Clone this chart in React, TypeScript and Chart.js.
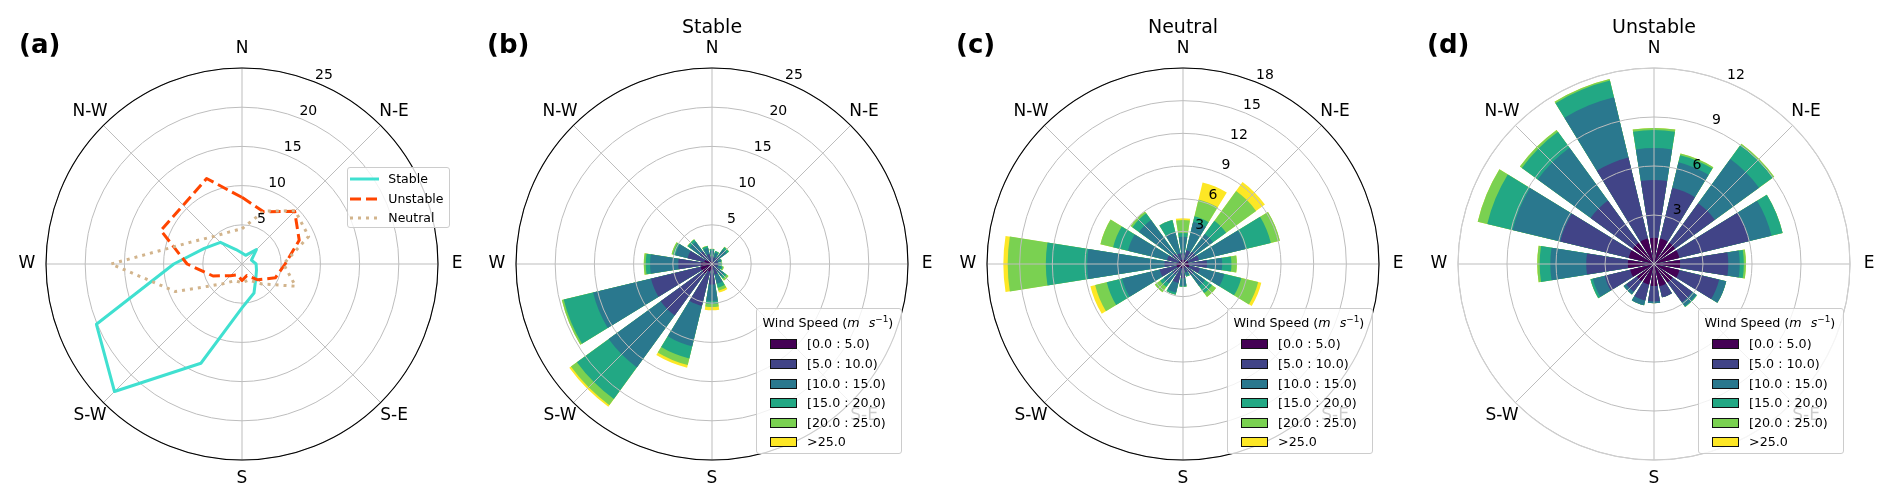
import React, { useEffect, useRef } from 'react';
import { Chart, registerables } from 'chart.js';

Chart.register(...registerables);

// ---------- data ----------
const DIRECTIONS = ['N', 'NNE', 'NE', 'ENE', 'E', 'ESE', 'SE', 'SSE', 'S', 'SSW', 'SW', 'WSW', 'W', 'WNW', 'NW', 'NNW'];
const COMPASS_LABELS = ['N', 'N-E', 'E', 'S-E', 'S', 'S-W', 'W', 'N-W'];
const SPEED_BINS = ['[0.0 : 5.0)', '[5.0 : 10.0)', '[10.0 : 15.0)', '[15.0 : 20.0)', '[20.0 : 25.0)', '>25.0'];
const SPEED_COLORS = ['#440154', '#414487', '#2a788e', '#22a884', '#7ad151', '#fde725'];

const TICKS_A = [5, 10, 15, 20, 25];
const TICKS_B = [5, 10, 15, 20, 25];
const TICKS_C = [3, 6, 9, 12, 15, 18];
const TICKS_D = [3, 6, 9, 12];

// (a) frequency lines per direction
const LINE_STABLE = [1.4, 1.2, 2.6, 1.3, 1.8, 2.0, 2.5, 4.0, 5.6, 13.7, 23.0, 20.1, 8.7, 5.2, 3.9, 2.0];
const LINE_UNSTABLE = [8.5, 7.2, 9.5, 7.9, 5.5, 4.6, 2.85, 1.6, 2.1, 1.5, 2.1, 4.0, 7.0, 11.2, 10.6, 11.8];
const LINE_NEUTRAL = [4.5, 7.3, 9.6, 9.2, 5.3, 7.4, 3.6, 2.2, 2.4, 2.3, 3.6, 9.2, 16.7, 7.2, 5.0, 4.4];

// (b) Stable, per speed bin, per direction
const STABLE_B0 = [0.3, 0.3, 0.3, 0.3, 0.3, 0.3, 0.4, 0.4, 0.7, 1.0, 1.5, 1.5, 1.4, 1.0, 0.6, 0.4];
const STABLE_B1 = [0.7, 0.6, 0.8, 0.5, 0.5, 0.5, 0.8, 1.0, 1.9, 4.5, 6.6, 6.5, 2.9, 2.2, 1.4, 0.9];
const STABLE_B2 = [0.7, 0.6, 1.2, 0.4, 0.3, 0.4, 0.7, 1.2, 2.1, 5.3, 8.2, 7.6, 3.6, 1.6, 1.5, 0.8];
const STABLE_B3 = [0.2, 0.2, 0.35, 0.1, 0.15, 0.2, 0.4, 0.5, 0.4, 1.6, 5.0, 3.85, 0.55, 0.3, 0.35, 0.25];
const STABLE_B4 = [0.05, 0, 0.05, 0, 0.05, 0.15, 0.3, 0.4, 0.4, 0.85, 0.95, 0.25, 0.25, 0.2, 0.05, 0.05];
const STABLE_B5 = [0, 0, 0, 0, 0, 0, 0, 0.25, 0.4, 0.35, 0.25, 0, 0, 0, 0, 0];

// (c) Neutral
const NEUTRAL_B0 = [0.4, 0.4, 0.4, 0.5, 0.5, 0.6, 0.4, 0.3, 0.4, 0.4, 0.4, 0.6, 0.6, 0.4, 0.4, 0.4];
const NEUTRAL_B1 = [0.6, 0.9, 1.0, 1.0, 1.7, 1.0, 0.8, 0.5, 0.9, 1.4, 0.8, 1.6, 1.1, 1.1, 0.8, 0.6];
const NEUTRAL_B2 = [1.5, 2.7, 2.0, 4.4, 1.4, 2.3, 1.3, 0.3, 0.7, 0.9, 1.0, 3.55, 7.1, 3.7, 3.8, 2.0];
const NEUTRAL_B3 = [0.35, 0.5, 1.5, 2.4, 0.85, 1.6, 0.8, 0.1, 0.1, 0.2, 0.4, 1.45, 3.8, 1.4, 0.75, 1.15];
const NEUTRAL_B4 = [1.2, 1.6, 3.4, 0.85, 0.5, 1.6, 0.45, 0, 0, 0, 0.6, 1.1, 3.5, 1.2, 0.2, 0];
const NEUTRAL_B5 = [0.15, 1.6, 1.0, 0, 0, 0.3, 0, 0, 0, 0, 0, 0.45, 0.4, 0, 0, 0];

// (d) Unstable
const UNSTABLE_B0 = [1.6, 1.6, 1.6, 1.6, 1.6, 1.6, 1.4, 1.4, 1.35, 1.3, 1.3, 1.5, 1.6, 1.6, 1.6, 1.6];
const UNSTABLE_B1 = [3.55, 3.2, 3.0, 4.4, 2.95, 2.5, 1.5, 0.7, 0.95, 1.0, 0.8, 1.6, 2.55, 4.3, 3.2, 5.1];
const UNSTABLE_B2 = [1.95, 1.6, 3.35, 1.4, 0.7, 0.45, 0.3, 0, 0.1, 0.3, 0.2, 0.75, 2.2, 3.0, 4.0, 3.8];
const UNSTABLE_B3 = [1.1, 0.45, 1.05, 0.7, 0.25, 0, 0.05, 0, 0, 0, 0, 0.15, 0.65, 1.6, 1.2, 1.05];
const UNSTABLE_B4 = [0.13, 0.1, 0.1, 0, 0.13, 0, 0, 0, 0, 0, 0, 0, 0.15, 0.6, 0.15, 0.1];
const UNSTABLE_B5 = [0, 0, 0, 0, 0, 0, 0, 0, 0, 0, 0, 0, 0, 0, 0, 0];

// ---------- layout / style ----------
const W = 1892;
const H = 504;
const CENTER_Y = 264;
const RADIUS = 196;
const GRID_COLOR = '#bdbdbd';
const FONT = '"DejaVu Sans", "Liberation Sans", sans-serif';
const SECTOR_DEG = 360 / DIRECTIONS.length;
const BAR_DEG = SECTOR_DEG * 0.8;
const GAP_DEG = SECTOR_DEG - BAR_DEG;

function padFor(cx: number) {
  return { left: cx - RADIUS, right: W - cx - RADIUS, top: CENTER_Y - RADIUS, bottom: H - CENTER_Y - RADIUS };
}

type DecorCfg = { letter: string; letterX: number; title?: string; angleLines: boolean; outerColor: string };

function decorPlugin(cfg: DecorCfg) {
  return {
    id: 'decor',
    afterDraw(chart: any) {
      const scale = chart.scales.r;
      const cx = scale.xCenter;
      const cy = scale.yCenter;
      const R = scale.drawingArea;
      const ctx: CanvasRenderingContext2D = chart.ctx;
      ctx.save();
      if (cfg.angleLines) {
        ctx.strokeStyle = GRID_COLOR;
        ctx.lineWidth = 1;
        for (let k = 0; k < 8; k++) {
          const a = (k * 45 - 90) * Math.PI / 180;
          ctx.beginPath();
          ctx.moveTo(cx, cy);
          ctx.lineTo(cx + R * Math.cos(a), cy + R * Math.sin(a));
          ctx.stroke();
        }
      }
      ctx.strokeStyle = cfg.outerColor;
      ctx.lineWidth = 1.1;
      ctx.beginPath();
      ctx.arc(cx, cy, R, 0, Math.PI * 2);
      ctx.stroke();

      ctx.fillStyle = '#000';
      ctx.textAlign = 'center';
      ctx.textBaseline = 'middle';
      ctx.font = `17px ${FONT}`;
      COMPASS_LABELS.forEach((lab, k) => {
        const a = (k * 45 - 90) * Math.PI / 180;
        const d = R * 1.097;
        ctx.fillText(lab, cx + d * Math.cos(a), cy + d * Math.sin(a));
      });

      ctx.font = `14px ${FONT}`;
      const ta = (23.5 - 90) * Math.PI / 180;
      scale.ticks.forEach((t: any) => {
        if (t.value === 0) return;
        const d = scale.getDistanceFromCenterForValue(t.value) + 9.5;
        ctx.fillText(String(t.value), cx + d * Math.cos(ta), cy + d * Math.sin(ta));
      });

      if (cfg.title) {
        ctx.font = `19px ${FONT}`;
        ctx.fillText(cfg.title, cx, 28);
      }
      ctx.font = `bold 26px ${FONT}`;
      ctx.textAlign = 'left';
      ctx.textBaseline = 'alphabetic';
      ctx.fillText(cfg.letter, cfg.letterX, 52.5);
      ctx.restore();
    },
  };
}

// ---------- panel (a): radar lines ----------
const LINE_SERIES = [
  { name: 'Stable', data: LINE_STABLE, color: '#40E0D0', dash: [] as number[], order: 2 },
  { name: 'Unstable', data: LINE_UNSTABLE, color: '#FF4500', dash: [11, 5], order: 1 },
  { name: 'Neutral', data: LINE_NEUTRAL, color: '#D2B48C', dash: [3, 5], order: 0 },
];

function lineConfig() {
  const cx = 242;
  return {
    type: 'radar',
    data: {
      labels: DIRECTIONS,
      datasets: LINE_SERIES.map((s) => ({
        label: s.name,
        data: s.data,
        borderColor: s.color,
        backgroundColor: 'transparent',
        borderWidth: 3,
        borderDash: s.dash,
        borderJoinStyle: 'round',
        fill: false,
        pointRadius: 0,
        pointHoverRadius: 0,
        tension: 0,
        order: s.order,
      })),
    },
    options: {
      responsive: false,
      animation: false,
      events: [],
      layout: { padding: padFor(cx) },
      plugins: { legend: { display: false }, tooltip: { enabled: false }, title: { display: false } },
      scales: {
        r: {
          min: 0,
          max: TICKS_A[TICKS_A.length - 1],
          startAngle: 0,
          afterBuildTicks: (s: any) => { s.ticks = [0, ...TICKS_A].map((v) => ({ value: v })); },
          ticks: { display: false },
          grid: { circular: true, color: GRID_COLOR, lineWidth: 1 },
          angleLines: { display: true, color: GRID_COLOR, lineWidth: (c: any) => (c.index % 2 === 0 ? 1 : 0) },
          pointLabels: { display: false },
        },
      },
    },
    plugins: [decorPlugin({ letter: '(a)', letterX: 19, angleLines: false, outerColor: '#000' })],
  };
}

// ---------- panels (b)-(d): wind roses ----------
const ROSE_PANELS = [
  { letter: '(b)', title: 'Stable', cx: 712, letterX: 487, ticks: TICKS_B, outer: '#000', bins: [STABLE_B0, STABLE_B1, STABLE_B2, STABLE_B3, STABLE_B4, STABLE_B5] },
  { letter: '(c)', title: 'Neutral', cx: 1183, letterX: 956, ticks: TICKS_C, outer: '#000', bins: [NEUTRAL_B0, NEUTRAL_B1, NEUTRAL_B2, NEUTRAL_B3, NEUTRAL_B4, NEUTRAL_B5] },
  { letter: '(d)', title: 'Unstable', cx: 1654, letterX: 1427, ticks: TICKS_D, outer: '#cfcfcf', bins: [UNSTABLE_B0, UNSTABLE_B1, UNSTABLE_B2, UNSTABLE_B3, UNSTABLE_B4, UNSTABLE_B5] },
];

function roseConfig(p: any) {
  const labels = DIRECTIONS.flatMap((d) => [d, '']);
  const datasets = p.bins.map((_: number[], k: number) => {
    const data: number[] = [];
    DIRECTIONS.forEach((_d, i) => {
      let cum = 0;
      for (let j = 0; j <= k; j++) cum += p.bins[j][i];
      data.push(cum, 0);
    });
    return {
      label: SPEED_BINS[k],
      data,
      backgroundColor: SPEED_COLORS[k],
      borderWidth: 0,
      angle: (c: any) => (c.dataIndex % 2 === 0 ? BAR_DEG : GAP_DEG),
    };
  });
  return {
    type: 'polarArea',
    data: { labels, datasets },
    options: {
      responsive: false,
      animation: false,
      events: [],
      layout: { padding: padFor(p.cx) },
      plugins: { legend: { display: false }, tooltip: { enabled: false }, title: { display: false } },
      scales: {
        r: {
          min: 0,
          max: p.ticks[p.ticks.length - 1],
          startAngle: -BAR_DEG / 2,
          afterBuildTicks: (s: any) => { s.ticks = [0, ...p.ticks].map((v: number) => ({ value: v })); },
          ticks: { display: false },
          grid: { circular: true, color: GRID_COLOR, lineWidth: 1, z: 1 },
          angleLines: { display: false },
          pointLabels: { display: false },
        },
      },
    },
    plugins: [decorPlugin({ letter: p.letter, letterX: p.letterX, title: p.title, angleLines: true, outerColor: p.outer })],
  };
}

function ChartCanvas({ makeConfig }: { makeConfig: () => any }) {
  const ref = useRef<HTMLCanvasElement>(null);
  useEffect(() => {
    const chart = new Chart(ref.current as HTMLCanvasElement, makeConfig());
    return () => chart.destroy();
  }, []);
  return <canvas ref={ref} width={W} height={H} style={{ position: 'absolute', left: 0, top: 0 }} />;
}

function LineLegend() {
  const rows = [11.3, 31, 50.6];
  return (
    <div style={{ position: 'absolute', left: 346.7, top: 166.7, width: 103.3, height: 61.6, boxSizing: 'border-box', background: 'rgba(255,255,255,0.8)', border: '1px solid #cccccc', borderRadius: 3, fontFamily: FONT, fontSize: 12.5, color: '#000', zIndex: 2 }}>
      {LINE_SERIES.map((s, k) => (
        <div key={s.name} style={{ position: 'absolute', left: 0, top: rows[k] - 9, height: 18, width: '100%' }}>
          <svg width={29} height={6} style={{ position: 'absolute', left: 2.5, top: 6 }}>
            <line x1={0} y1={3} x2={29} y2={3} stroke={s.color} strokeWidth={3} strokeDasharray={s.dash.length ? s.dash.join(',') : undefined} />
          </svg>
          <div style={{ position: 'absolute', left: 40.6, top: 0, lineHeight: '18px', whiteSpace: 'nowrap' }}>{s.name}</div>
        </div>
      ))}
    </div>
  );
}

function RoseLegend({ cx }: { cx: number }) {
  return (
    <div style={{ position: 'absolute', left: cx + 44, top: 308, width: 146, height: 146, boxSizing: 'border-box', background: 'rgba(255,255,255,0.8)', border: '1px solid #cccccc', borderRadius: 3, fontFamily: FONT, fontSize: 12.7, color: '#000', zIndex: 2 }}>
      <div style={{ position: 'absolute', left: 5.6, top: 4.7, height: 18, lineHeight: '18px', whiteSpace: 'nowrap' }}>
        Wind Speed (<i>m</i><span style={{ display: 'inline-block', width: 9 }} /><i>s</i>
        <sup style={{ fontSize: '0.7em', lineHeight: 0, verticalAlign: '0.55em' }}>−1</sup>)
      </div>
      {SPEED_BINS.map((lab, k) => (
        <div key={lab} style={{ position: 'absolute', left: 0, top: 35.3 + k * 19.6 - 9, height: 18, width: '100%' }}>
          <div style={{ position: 'absolute', left: 13.3, top: 4, width: 27, height: 10, boxSizing: 'border-box', background: SPEED_COLORS[k], border: '1px solid #111' }} />
          <div style={{ position: 'absolute', left: 50, top: 0, lineHeight: '18px', whiteSpace: 'nowrap' }}>{lab}</div>
        </div>
      ))}
    </div>
  );
}

export default function App() {
  return (
    <div style={{ position: 'absolute', left: 0, top: 0, width: W, height: H, background: '#fff', overflow: 'hidden' }}>
      <ChartCanvas makeConfig={lineConfig} />
      {ROSE_PANELS.map((p) => (
        <ChartCanvas key={p.letter} makeConfig={() => roseConfig(p)} />
      ))}
      <LineLegend />
      {ROSE_PANELS.map((p) => (
        <RoseLegend key={p.letter} cx={p.cx} />
      ))}
    </div>
  );
}
